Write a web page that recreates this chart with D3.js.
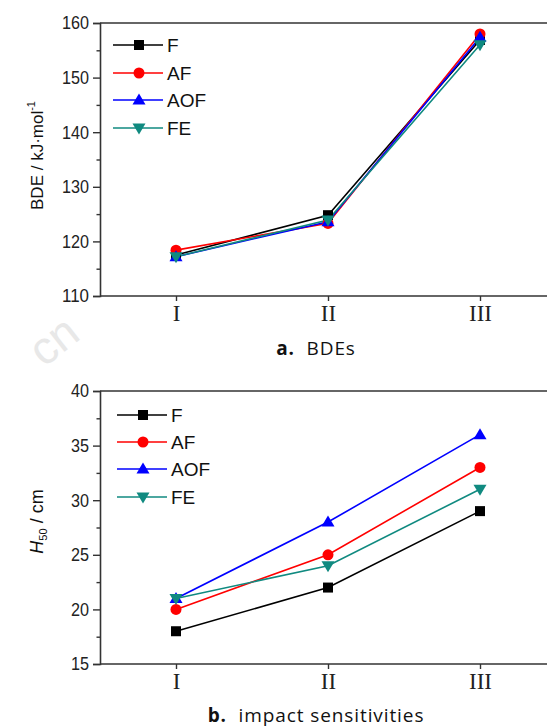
<!DOCTYPE html>
<html><head><meta charset="utf-8">
<script src="https://cdn.jsdelivr.net/npm/d3@7"></script>
<style>
body{margin:0;background:#fff;}
svg{display:block;}
</style></head>
<body>
<svg id="chart" width="547" height="727"></svg>
<script>
const categories = ["I", "II", "III"];
const seriesNames = ["F", "AF", "AOF", "FE"];
const bdeF   = [117.5, 124.8, 156.9];
const bdeAF  = [118.4, 123.3, 158.0];
const bdeAOF = [117.2, 123.6, 157.4];
const bdeFE  = [117.2, 123.9, 156.0];
const h50F   = [18, 22, 29];
const h50AF  = [20, 25, 33];
const h50AOF = [21, 28, 36];
const h50FE  = [21, 24, 31];
const bdeTicks = [110, 120, 130, 140, 150, 160];
const h50Ticks = [15, 20, 25, 30, 35, 40];

const colors = {F:"#000000", AF:"#ff0000", AOF:"#0000ff", FE:"#108a80"};
const markers = {F:"square", AF:"circle", AOF:"triangle", FE:"triangledown"};

const svg = d3.select("#chart");

// faint watermark
svg.append("text").attr("x",44).attr("y",368).attr("transform","rotate(-38,44,368)")
  .attr("font-family","Liberation Sans, Arial").attr("font-size",46).attr("fill","#e8e8e8").text("cn");

function drawMarker(g, type, x, y, color) {
  if (type === "square") {
    g.append("rect").attr("x", x-5).attr("y", y-5).attr("width",10).attr("height",10).attr("fill",color);
  } else if (type === "circle") {
    g.append("circle").attr("cx",x).attr("cy",y).attr("r",5.5).attr("fill",color);
  } else if (type === "triangle") {
    g.append("path").attr("d",`M${x},${y-6.5}L${x+6.5},${y+4.5}L${x-6.5},${y+4.5}Z`).attr("fill",color);
  } else {
    g.append("path").attr("d",`M${x},${y+6.5}L${x+6.5},${y-4.5}L${x-6.5},${y-4.5}Z`).attr("fill",color);
  }
}

function panel(opts) {
  const {top, bottom, left, right, yDomain, ticks, minor, data, legendY, legendX, caption, captionY, titleFn} = opts;
  const g = svg.append("g");
  const x = d3.scalePoint().domain(categories).range([left, right]).padding(0.5);
  const y = d3.scaleLinear().domain(yDomain).range([bottom, top]);

  g.append("line").attr("x1",left).attr("x2",right).attr("y1",top).attr("y2",top).attr("stroke","#333").attr("stroke-width",1.6);

  const yAxis = d3.axisLeft(y).tickValues(ticks).tickSize(7).tickPadding(4).tickFormat(d3.format("d"));
  const ya = g.append("g").attr("transform",`translate(${left},0)`).call(yAxis);
  ya.select(".domain").attr("stroke","#333").attr("stroke-width",1.6);
  ya.selectAll(".tick line").attr("stroke","#333").attr("stroke-width",1.4);
  ya.selectAll(".tick text").attr("font-family","Liberation Sans, Arial").attr("font-size",18.5).attr("fill","#222")
    .attr("textLength",d => String(d).length*9).attr("lengthAdjust","spacingAndGlyphs");
  const yMinor = d3.axisLeft(y).tickValues(minor).tickSize(3.5).tickFormat("");
  const ym = g.append("g").attr("transform",`translate(${left},0)`).call(yMinor);
  ym.select(".domain").remove();
  ym.selectAll(".tick line").attr("stroke","#333").attr("stroke-width",1.4);

  const xAxis = d3.axisBottom(x).tickSize(5).tickPadding(4);
  const xa = g.append("g").attr("transform",`translate(0,${bottom})`).call(xAxis);
  xa.select(".domain").attr("stroke","#333").attr("stroke-width",1.6).attr("d",`M${left},0H${right}`);
  xa.selectAll(".tick line").attr("stroke","#333").attr("stroke-width",1.4);
  xa.selectAll(".tick text").attr("font-family","Liberation Serif, Times New Roman").attr("font-size",23).attr("fill","#222");

  const line = d3.line().x((d,i)=>x(categories[i])).y(d=>y(d));
  seriesNames.forEach(name => {
    g.append("path").datum(data[name]).attr("d", line).attr("fill","none")
      .attr("stroke", colors[name]).attr("stroke-width",1.6);
  });
  seriesNames.forEach(name => {
    data[name].forEach((v,i) => drawMarker(g, markers[name], x(categories[i]), y(v), colors[name]));
  });

  seriesNames.forEach((name, i) => {
    const ly = legendY[i];
    g.append("line").attr("x1",legendX).attr("x2",legendX+50).attr("y1",ly).attr("y2",ly)
      .attr("stroke",colors[name]).attr("stroke-width",1.6);
    drawMarker(g, markers[name], legendX+26, ly, colors[name]);
    g.append("text").attr("x",legendX+54).attr("y",ly+7).attr("font-family","Liberation Sans, Arial")
      .attr("font-size",19).attr("fill","#111").text(name);
  });

  titleFn(g, (top+bottom)/2);

  const c = g.append("text").attr("x",316).attr("y",captionY).attr("text-anchor","middle")
    .attr("font-family","Open Sans, Lato, sans-serif").attr("font-size",19).attr("letter-spacing",0.9).attr("fill","#111");
  c.append("tspan").attr("font-weight","bold").text(caption[0]);
  c.append("tspan").text("\u00a0\u00a0" + caption[1]);
}

panel({
  top:23, bottom:296, left:100, right:556, yDomain:[110,160], ticks:bdeTicks,
  minor:[115,125,135,145,155],
  data:{F:bdeF, AF:bdeAF, AOF:bdeAOF, FE:bdeFE},
  legendX:113, legendY:[45,73,100,128],
  caption:["a.","BDEs"], captionY:355,
  titleFn:(g, cy) => {
    const t = g.append("text").attr("transform",`translate(43,${cy-4}) rotate(-90)`).attr("text-anchor","middle")
      .attr("font-family","Liberation Sans, Arial").attr("font-size",17).attr("fill","#111");
    t.append("tspan").text("BDE / kJ\u00b7mol");
    t.append("tspan").attr("font-size",11).attr("dy",-8).text("-1");
  }
});

panel({
  top:391, bottom:664, left:100, right:556, yDomain:[15,40], ticks:h50Ticks,
  minor:[17.5,22.5,27.5,32.5,37.5],
  data:{F:h50F, AF:h50AF, AOF:h50AOF, FE:h50FE},
  legendX:117, legendY:[415,442,469,497],
  caption:["b.","impact sensitivities"], captionY:722,
  titleFn:(g, cy) => {
    const t = g.append("text").attr("transform",`translate(43,${cy-6}) rotate(-90)`).attr("text-anchor","middle")
      .attr("font-family","Liberation Sans, Arial").attr("font-size",18).attr("fill","#111");
    t.append("tspan").attr("font-style","italic").text("H");
    t.append("tspan").attr("font-size",11).attr("dy",4).text("50");
    t.append("tspan").attr("dy",-4).text(" / cm");
  }
});
</script>
</body></html>
